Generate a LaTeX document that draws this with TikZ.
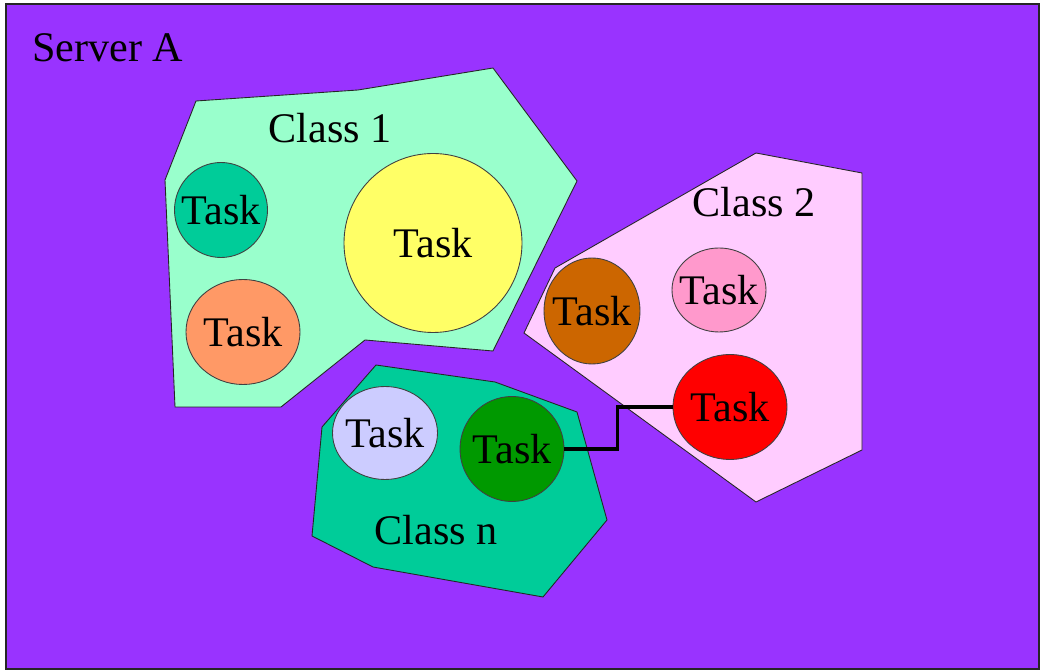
\documentclass[tikz,border=0pt]{standalone}
\usepackage{fontspec}
\setmainfont{Liberation Serif}
\usetikzlibrary{shapes.geometric}

\definecolor{servercol}{HTML}{9933FF}
\definecolor{mint}{HTML}{99FFCC}
\definecolor{teal}{HTML}{00CC99}
\definecolor{lemon}{HTML}{FFFF66}
\definecolor{peach}{HTML}{FF9966}
\definecolor{blush}{HTML}{FFCCFF}
\definecolor{rust}{HTML}{CC6600}
\definecolor{rose}{HTML}{FF99CC}
\definecolor{lilac}{HTML}{CCCCFF}
\definecolor{leaf}{HTML}{009900}

\newcommand{\tasklbl}{\makebox[0pt]{Task}}

\tikzset{
  txt/.style={font=\fontsize{24}{28}\selectfont},
  classarea/.style={draw=black!85,line width=0.5pt},
  task/.style={ellipse,draw=black!75,line width=0.5pt,inner sep=0pt,txt},
  wh/.style 2 args={minimum width=#1*0.02cm,minimum height=#2*0.02cm}
}

\begin{document}
\begin{tikzpicture}[x=0.02cm,y=-0.02cm]
    \useasboundingbox[fill=white] (0,0) rectangle (1042,671);
    \draw[fill=servercol,draw=black!85,line width=1.1pt] (6,4) rectangle (1039,669);
    \node[txt,anchor=west] (srv) at (26,48) {Server A};

    % class areas
    \fill[mint,classarea] (196,101) -- (358,90) -- (493,68) -- (577,181) -- (493,351)
        -- (365,340) -- (281,407) -- (175,407) -- (165,180) -- cycle;
    \fill[blush,classarea] (756,153) -- (862,173) -- (862,450) -- (756,502)
        -- (524,333) -- (555,268) -- cycle;
    \fill[teal,classarea] (376,365) -- (495,382) -- (577,412) -- (607,520) -- (543,597)
        -- (373,567) -- (312,536) -- (322,427) -- cycle;

    \node[txt] (c1) at (330,128) {Class 1};
    \node[txt] (c2) at (754,202) {Class 2};
    \node[txt] (cn) at (436,530) {Class n};

    % tasks
    \node[task,fill=teal,wh={93}{95}]    (t1) at (221,210) {\tasklbl};
    \node[task,fill=peach,wh={114}{105}] (t2) at (243,332) {\tasklbl};
    \node[task,fill=lemon,wh={178}{179}] (t3) at (433,243) {\tasklbl};
    \node[task,fill=rust,wh={96}{106}]   (t4) at (592,311) {\tasklbl};
    \node[task,fill=rose,wh={94}{84}]    (t5) at (719,290) {\tasklbl};
    \node[task,fill=red,wh={114}{105}]   (t6) at (730,407) {\tasklbl};
    \node[task,fill=lilac,wh={105}{93}]  (t7) at (385,433) {\tasklbl};
    \node[task,fill=leaf,wh={104}{105}]  (t8) at (512,449) {\tasklbl};

    \coordinate (jog) at (617.5,407);
    \draw[line width=2pt] (t8.east) -| (jog) -- (t6.west);
\end{tikzpicture}
\end{document}
